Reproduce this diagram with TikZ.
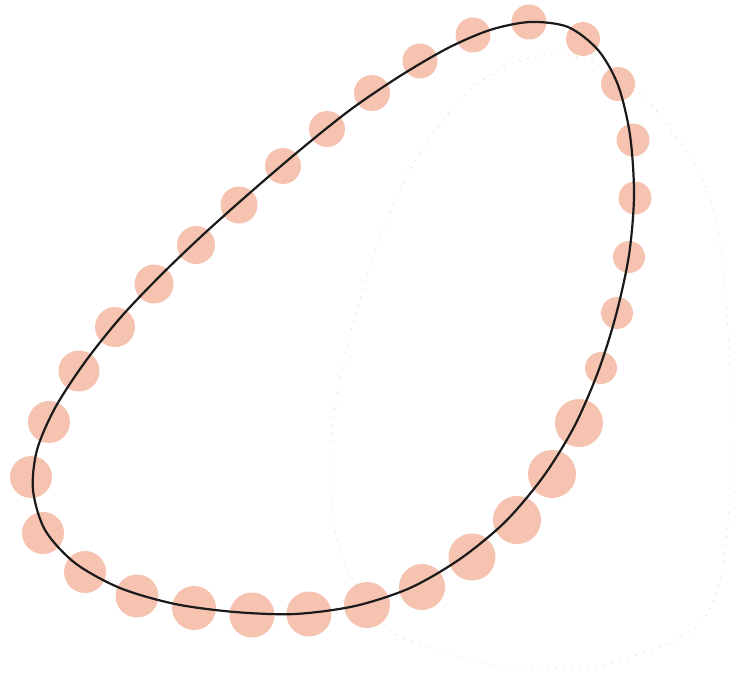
\documentclass[tikz,border=0pt]{standalone}
\usepackage{xcolor}
\usepackage{tikz}
\definecolor{beadpink}{HTML}{F5C3AF}
\definecolor{loopblack}{HTML}{1A1A1A}

\begin{document}
\begin{tikzpicture}[x=1pt,y=-1pt]
  \useasboundingbox (0,0) rectangle (730,677);
  % faint background loop
  \draw[beadpink!70,line width=1pt,dash pattern=on 1.2pt off 7pt] plot[smooth cycle] coordinates {
    (553,55) (505,66) (463,97) (420,153) (380,237) (347,347) (330,450) (340,550)
    (390,630) (483,663) (550,668) (613,663) (703,620) (728,520) (728,330)
    (710,197) (653,107) (600,65)};
  % beads
  \fill[beadpink] (529,22) circle[radius=17.5pt];
  \fill[beadpink] (473,35) circle[radius=17.5pt];
  \fill[beadpink] (583,39) circle[radius=17pt];
  \fill[beadpink] (420,61) circle[radius=17.5pt];
  \fill[beadpink] (618,84) circle[radius=17pt];
  \fill[beadpink] (372,93) circle[radius=18pt];
  \fill[beadpink] (633,140) circle[radius=16.5pt];
  \fill[beadpink] (327,129) circle[radius=18pt];
  \fill[beadpink] (635,198) circle[radius=16.5pt];
  \fill[beadpink] (283,166) circle[radius=18pt];
  \fill[beadpink] (629,257) circle[radius=16pt];
  \fill[beadpink] (239,205) circle[radius=18.5pt];
  \fill[beadpink] (617,313) circle[radius=16pt];
  \fill[beadpink] (196,245) circle[radius=19pt];
  \fill[beadpink] (601,368) circle[radius=16pt];
  \fill[beadpink] (154,284) circle[radius=19.5pt];
  \fill[beadpink] (579,423) circle[radius=24pt];
  \fill[beadpink] (115,327) circle[radius=20pt];
  \fill[beadpink] (552,474) circle[radius=24pt];
  \fill[beadpink] (79,371) circle[radius=20.5pt];
  \fill[beadpink] (517,520) circle[radius=24pt];
  \fill[beadpink] (49,422) circle[radius=21pt];
  \fill[beadpink] (472,557) circle[radius=23.5pt];
  \fill[beadpink] (31,477) circle[radius=21pt];
  \fill[beadpink] (422,587) circle[radius=23pt];
  \fill[beadpink] (43,533) circle[radius=21pt];
  \fill[beadpink] (367,605) circle[radius=23pt];
  \fill[beadpink] (85,572) circle[radius=21pt];
  \fill[beadpink] (309,614) circle[radius=22.5pt];
  \fill[beadpink] (137,596) circle[radius=21.5pt];
  \fill[beadpink] (252,615) circle[radius=22.5pt];
  \fill[beadpink] (194,608) circle[radius=22pt];
  % closed curve
  \draw[loopblack,line width=2.2pt] plot[smooth cycle] coordinates {
    (530,22) (568,27) (598,50) (618,85) (630,135) (634,195) (629,255)
    (616,315) (598,372) (574,427) (543,477) (505,522) (460,559) (410,588)
    (355,606) (295,614) (235,612) (175,604) (120,588) (75,563) (45,530)
    (33,490) (37,450) (55,408) (85,362) (121,317) (162,274) (206,232)
    (252,191) (300,150) (350,110) (400,76) (448,48) (490,30)};
\end{tikzpicture}
\end{document}
